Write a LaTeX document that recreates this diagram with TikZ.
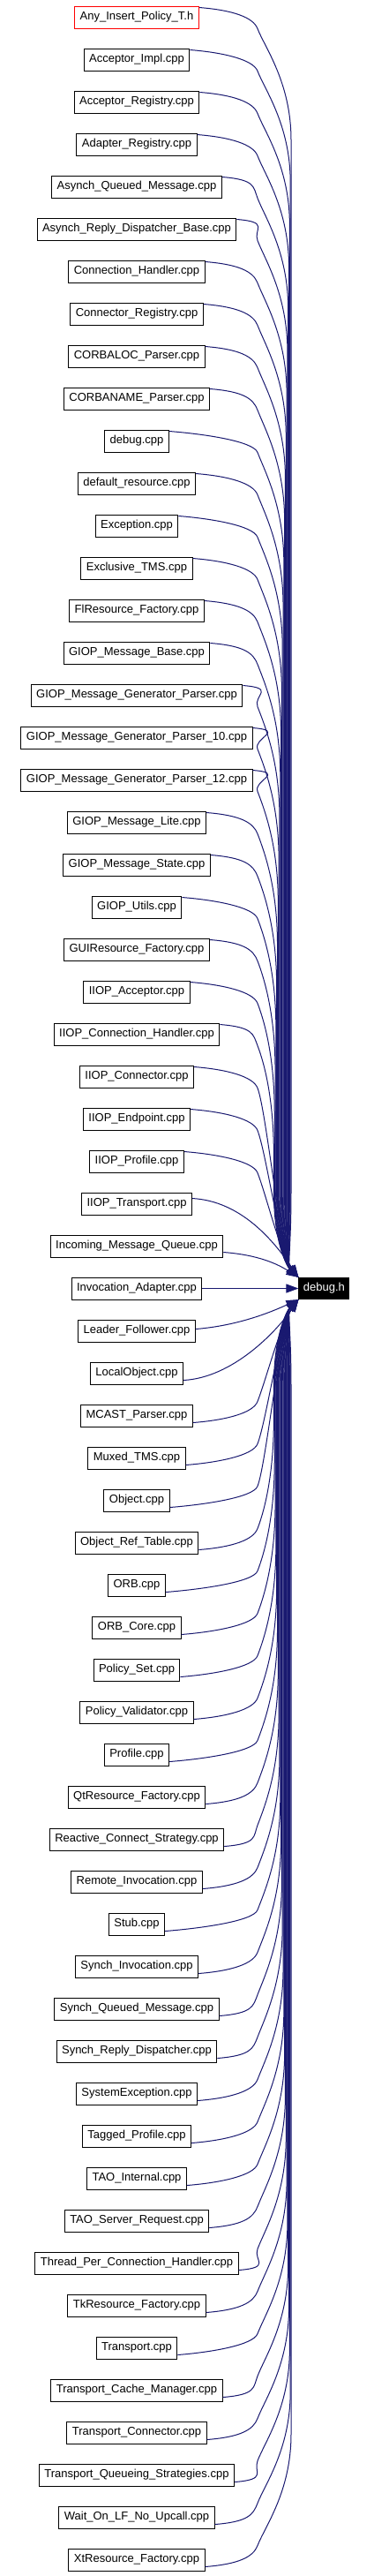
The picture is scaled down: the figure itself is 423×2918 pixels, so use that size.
\documentclass[tikz,border=0pt]{standalone}
\usepackage{fontspec}
\setmainfont{Liberation Sans}
\usepackage{tikz}
\usetikzlibrary{arrows.meta,calc}
\usepackage{xcolor}
\definecolor{edgeblue}{HTML}{191970}

\tikzset{
  file/.style={draw=black, line width=1pt, fill=white, inner xsep=6pt, inner ysep=0pt,
    minimum height=25pt, font=\fontsize{13}{15}\selectfont},
  startfile/.style={file, draw=red},
  header/.style={file, fill=black, text=white, inner xsep=5pt, minimum height=24pt},
  dep/.style={edgeblue, line width=1pt, -{Triangle[length=14pt,width=10pt]}},
}

\begin{document}
\begin{tikzpicture}[x=1pt, y=-1pt]
    \useasboundingbox (0,0) rectangle (423,2918);

    % The included header
    \node[header] (debugh) at (367.4,1459.5) {debug.h};

    % First includer (red frame)
    \node[startfile] (AnyInsert) at (155,19.5) {Any\_Insert\_Policy\_T.h};
    \path (AnyInsert.east) ++(0,-11) coordinate (s);
    \draw[dep] (s) .. controls +(38,3) and (287,19.5) .. (292,32.5)
        .. controls (300,53.5) and (330,93.5) .. (330,158.5)
        -- (330,1350) .. controls (330,1410) and (326,1435) .. (debugh.north west);

    % All other includers, one row each
    \foreach \id/\txt [count=\i from 2] in {
        AcceptorImpl/Acceptor\_Impl.cpp,
        AcceptorRegistry/Acceptor\_Registry.cpp,
        AdapterRegistry/Adapter\_Registry.cpp,
        AsynchQueuedMessage/Asynch\_Queued\_Message.cpp,
        AsynchReplyDispatcherBase/Asynch\_Reply\_Dispatcher\_Base.cpp,
        ConnectionHandler/Connection\_Handler.cpp,
        ConnectorRegistry/Connector\_Registry.cpp,
        CorbalocParser/CORBALOC\_Parser.cpp,
        CorbanameParser/CORBANAME\_Parser.cpp,
        debugcpp/debug.cpp,
        defaultresource/default\_resource.cpp,
        Exception/Exception.cpp,
        ExclusiveTMS/Exclusive\_TMS.cpp,
        FlResourceFactory/FlResource\_Factory.cpp,
        GIOPMessageBase/GIOP\_Message\_Base.cpp,
        GIOPMessageGeneratorParser/GIOP\_Message\_Generator\_Parser.cpp,
        GIOPMessageGeneratorParserTen/GIOP\_Message\_Generator\_Parser\_10.cpp,
        GIOPMessageGeneratorParserTwelve/GIOP\_Message\_Generator\_Parser\_12.cpp,
        GIOPMessageLite/GIOP\_Message\_Lite.cpp,
        GIOPMessageState/GIOP\_Message\_State.cpp,
        GIOPUtils/GIOP\_Utils.cpp,
        GUIResourceFactory/GUIResource\_Factory.cpp,
        IIOPAcceptor/IIOP\_Acceptor.cpp,
        IIOPConnectionHandler/IIOP\_Connection\_Handler.cpp,
        IIOPConnector/IIOP\_Connector.cpp,
        IIOPEndpoint/IIOP\_Endpoint.cpp,
        IIOPProfile/IIOP\_Profile.cpp,
        IIOPTransport/IIOP\_Transport.cpp,
        IncomingMessageQueue/Incoming\_Message\_Queue.cpp,
        InvocationAdapter/Invocation\_Adapter.cpp,
        LeaderFollower/Leader\_Follower.cpp,
        LocalObject/LocalObject.cpp,
        MCASTParser/MCAST\_Parser.cpp,
        MuxedTMS/Muxed\_TMS.cpp,
        Object/Object.cpp,
        ObjectRefTable/Object\_Ref\_Table.cpp,
        ORB/ORB.cpp,
        ORBCore/ORB\_Core.cpp,
        PolicySet/Policy\_Set.cpp,
        PolicyValidator/Policy\_Validator.cpp,
        Profile/Profile.cpp,
        QtResourceFactory/QtResource\_Factory.cpp,
        ReactiveConnectStrategy/Reactive\_Connect\_Strategy.cpp,
        RemoteInvocation/Remote\_Invocation.cpp,
        Stub/Stub.cpp,
        SynchInvocation/Synch\_Invocation.cpp,
        SynchQueuedMessage/Synch\_Queued\_Message.cpp,
        SynchReplyDispatcher/Synch\_Reply\_Dispatcher.cpp,
        SystemException/SystemException.cpp,
        TaggedProfile/Tagged\_Profile.cpp,
        TAOInternal/TAO\_Internal.cpp,
        TAOServerRequest/TAO\_Server\_Request.cpp,
        ThreadPerConnectionHandler/Thread\_Per\_Connection\_Handler.cpp,
        TkResourceFactory/TkResource\_Factory.cpp,
        Transport/Transport.cpp,
        TransportCacheManager/Transport\_Cache\_Manager.cpp,
        TransportConnector/Transport\_Connector.cpp,
        TransportQueueingStrategies/Transport\_Queueing\_Strategies.cpp,
        WaitOnLFNoUpcall/Wait\_On\_LF\_No\_Upcall.cpp,
        XtResourceFactory/XtResource\_Factory.cpp}
    {
        \node[file] (\id) at (155,{19.5+48*(\i-1)}) {\txt};
        % row offset from debug.h, start height and lane of the edge
        \pgfmathtruncatemacro\dd{\i-31}
        \pgfmathsetmacro\off{\dd<=-3 ? -11 : (\dd==-2 ? -6 : (\dd==-1 ? 7 : (\dd==0 ? 0 : (\dd==1 ? -2 : 8))))}
        \pgfmathsetmacro\sy{19.5+48*(\i-1)+\off}
        \pgfmathsetmacro\xl{308+(abs(\dd)-3)*22/27}
        \path (\id.east) ++(0,\off) coordinate (s);
        % far rows above
        \ifnum\dd<-5
            \draw[dep] (s) .. controls +(38,3) and (287,\sy+11) .. (292,\sy+24)
                .. controls (300,\sy+45) and (\xl,\sy+85) .. (\xl,\sy+150)
                -- (\xl,1350) .. controls (\xl,1410) and (326,1435) .. (debugh.north west);
        \fi
        \ifnum\dd>-6 \ifnum\dd<-2
            \draw[dep] (s) .. controls +(38,3) and (287,\sy+11) .. (292,\sy+24)
                .. controls (302,\sy+50) and (318,1420) .. (debugh.north west);
        \fi\fi
        \ifnum\dd=-2
            \draw[dep] (s) .. controls +(55,3) and (310,1405) .. (debugh.north west);
        \fi
        \ifnum\dd=-1
            \draw[dep] (s) .. controls +(40,3) and (315,1432) .. (debugh.north west);
        \fi
        \ifnum\dd=0
            \draw[dep] (s) -- (debugh.west);
        \fi
        \ifnum\dd=1
            \draw[dep] (s) .. controls +(50,-4) and (310,1485) .. (debugh.south west);
        \fi
        \ifnum\dd=2
            \draw[dep] (s) .. controls +(55,-3) and (312,1510) .. (debugh.south west);
        \fi
        \ifnum\dd>2 \ifnum\dd<6
            \draw[dep] (s) .. controls +(38,-3) and (287,\sy-11) .. (292,\sy-24)
                .. controls (302,\sy-50) and (318,1500) .. (debugh.south west);
        \fi\fi
        % far rows below
        \ifnum\dd>5
            \draw[dep] (s) .. controls +(38,-3) and (287,\sy-11) .. (292,\sy-24)
                .. controls (300,\sy-45) and (\xl,\sy-85) .. (\xl,\sy-150)
                -- (\xl,1570) .. controls (\xl,1510) and (326,1484) .. (debugh.south west);
        \fi
    }
\end{tikzpicture}
\end{document}
